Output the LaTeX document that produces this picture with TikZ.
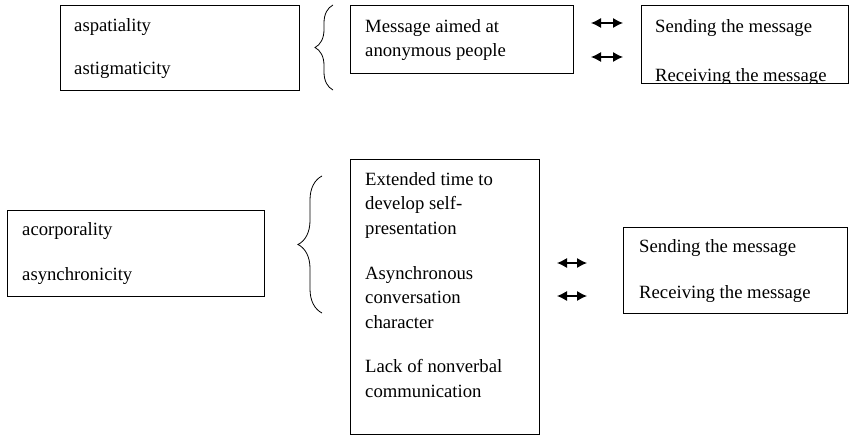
\documentclass[tikz,border=0pt]{standalone}
\usepackage{fontspec}
\setmainfont{Liberation Serif}
\usetikzlibrary{calc,arrows.meta,decorations.pathreplacing}

\begin{document}
\begin{tikzpicture}[x=1pt,y=-1pt,
    box/.style={draw,line width=0.9pt,rectangle,anchor=north west,inner sep=0pt},
    txt/.style={anchor=north west,inner sep=0pt,align=left,font=\fontsize{18.7}{24.5}\selectfont},
    dbl/.style={{Latex[length=10pt,width=10pt]}-{Latex[length=10pt,width=10pt]},line width=1.1pt},
    brc/.style={decorate,decoration={brace,amplitude=#1},line width=0.8pt}]
    \useasboundingbox (0,0) rectangle (857,436);
    % upper row
    \node[box,minimum width=239,minimum height=85] (spat) at (60,5) {};
    \node[box,minimum width=223,minimum height=68] (anon) at (350,5) {};
    \node[box,minimum width=207,minimum height=78] (msgA) at (641,5) {};
    \node[txt] (spat1) at ($(spat.north west)+(14,13.3)$) {aspatiality};
    \node[txt] (spat2) at ($(spat.north west)+(14,57.3)$) {astigmaticity};
    \node[txt] (anon1) at ($(anon.north west)+(15,14.3)$) {Message aimed at\\anonymous people};
    \begin{scope}
      \clip (msgA.north west) rectangle (msgA.south east);
      \node[txt] (msgA1) at ($(msgA.north west)+(14,14.3)$) {Sending the message};
      \node[txt] (msgA2) at ($(msgA.north west)+(14,63.3)$) {Receiving the message};
    \end{scope}
    \draw[brc=18] (333,90) -- (333,5);
    \coordinate (a1l) at (591,23);
    \coordinate (a1r) at (623,23);
    \coordinate (a2l) at (591,57);
    \coordinate (a2r) at (623,57);
    \draw[dbl] (a1l) -- (a1r);
    \draw[dbl] (a2l) -- (a2r);
    % lower row
    \node[box,minimum width=257,minimum height=86] (corp) at (7,210) {};
    \node[box,minimum width=189,minimum height=275] (feat) at (350,159) {};
    \node[box,minimum width=224,minimum height=86] (msgB) at (623,227) {};
    \node[txt] (corp1) at ($(corp.north west)+(15,12.3)$) {acorporality};
    \node[txt] (corp2) at ($(corp.north west)+(15,57.3)$) {asynchronicity};
    \node[txt] (feat1) at ($(feat.north west)+(15,13.3)$) {Extended time to\\develop self-\\presentation};
    \node[txt] (feat2) at ($(feat.north west)+(15,107.3)$) {Asynchronous\\conversation\\character};
    \node[txt] (feat3) at ($(feat.north west)+(15,200.3)$) {Lack of nonverbal\\communication};
    \node[txt] (msgB1) at ($(msgB.north west)+(16,12.3)$) {Sending the message};
    \node[txt] (msgB2) at ($(msgB.north west)+(16,58.3)$) {Receiving the message};
    \draw[brc=24] (322,313) -- (322,176);
    \coordinate (b1l) at (557,263);
    \coordinate (b1r) at (587,263);
    \coordinate (b2l) at (557,296);
    \coordinate (b2r) at (587,296);
    \draw[dbl] (b1l) -- (b1r);
    \draw[dbl] (b2l) -- (b2r);
\end{tikzpicture}
\end{document}
